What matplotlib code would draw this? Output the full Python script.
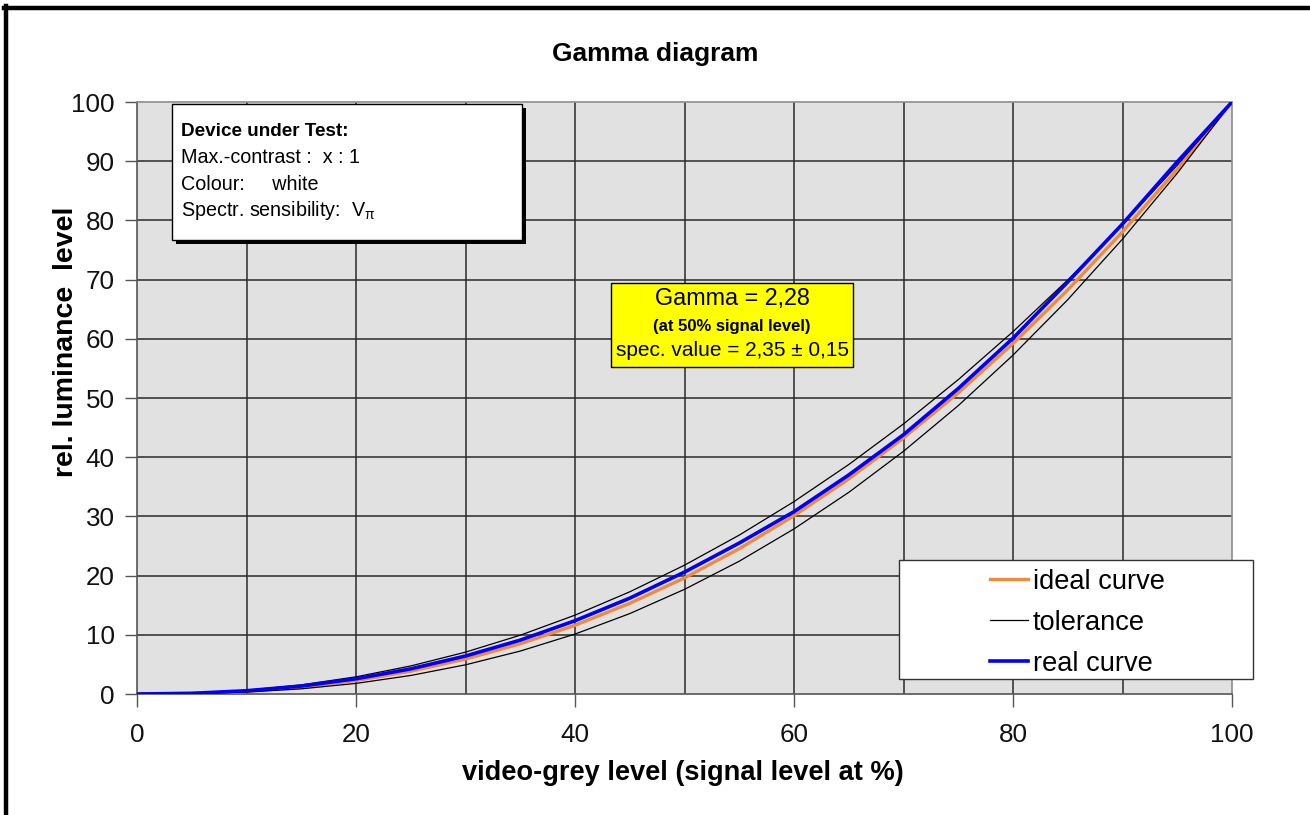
import matplotlib
matplotlib.use("Agg")
import matplotlib.pyplot as plt
from matplotlib.patches import Rectangle
from matplotlib.lines import Line2D

plt.rcParams['font.family'] = ['Liberation Sans', 'DejaVu Sans']
plt.rcParams['mathtext.default'] = 'regular'

# signal level (%)
signal = [0, 5, 10, 15, 20, 25, 30, 35, 40, 45, 50,
          55, 60, 65, 70, 75, 80, 85, 90, 95, 100]

# ideal curve (gamma 2.35)
ideal = [0, 0.09, 0.45, 1.16, 2.28, 3.85, 5.91, 8.48, 11.61, 15.31, 19.61,
         24.54, 30.11, 36.33, 43.25, 50.86, 59.20, 68.26, 78.07, 88.65, 100]

# tolerance band (2.35 +/- 0.15)
tol_upper = [0, 0.14, 0.63, 1.54, 2.90, 4.74, 7.07, 9.93, 13.32, 17.26, 21.76,
             26.84, 32.50, 38.76, 45.62, 53.10, 61.21, 69.94, 79.31, 89.33, 100]
tol_lower = [0, 0.06, 0.32, 0.87, 1.79, 3.13, 4.93, 7.25, 10.12, 13.58, 17.68,
             22.43, 27.89, 34.06, 41.00, 48.71, 57.24, 66.61, 76.84, 87.97, 100]

# measured luminance
real = [0, 0.11, 0.55, 1.34, 2.57, 4.25, 6.42, 9.10, 12.38, 16.19, 20.59,
        25.50, 30.80, 37.00, 43.80, 51.60, 60.10, 69.60, 79.40, 89.90, 100]

x_ticks = [0, 20, 40, 60, 80, 100]
y_ticks = [0, 10, 20, 30, 40, 50, 60, 70, 80, 90, 100]

W, H = 1310, 815
fig = plt.figure(figsize=(W / 100, H / 100), dpi=100)
fig.patch.set_facecolor('white')


def fx(px):
    return px / W


def fy(py):
    return 1 - py / H


ax = fig.add_axes([fx(137), fy(694), fx(1232) - fx(137), fy(102) - fy(694)])
ax.set_facecolor('#e1e1e1')
ax.set_xlim(0, 100)
ax.set_ylim(0, 100)

# grid every 10 on both axes
for gx in range(10, 100, 10):
    ax.axvline(gx, color='#2a2a2a', lw=1.1, zorder=1)
for gy in range(10, 100, 10):
    ax.axhline(gy, color='#2a2a2a', lw=1.1, zorder=1)

ax.plot(signal, ideal, color='#f08a3e', lw=2.4, zorder=3, label='ideal curve')
ax.plot(signal, tol_upper, color='black', lw=0.9, zorder=4, label='tolerance')
ax.plot(signal, tol_lower, color='black', lw=0.9, zorder=4)
ax.plot(signal, real, color='#0000ff', lw=2.6, zorder=5, label='real curve')

ax.set_xticks(x_ticks)
ax.set_yticks(y_ticks)
ax.tick_params(axis='both', direction='out', length=9, width=1, color='#555555',
               labelsize=18.7, labelcolor='#111111')
ax.tick_params(axis='x', pad=12)
ax.tick_params(axis='y', pad=7)
for side in ['left', 'bottom']:
    ax.spines[side].set_color('#555555')
    ax.spines[side].set_linewidth(1.2)
for side in ['top', 'right']:
    ax.spines[side].set_color('#8c8c8c')
    ax.spines[side].set_linewidth(1.2)

# titles and axis labels
fig.text(0.5, fy(54), 'Gamma diagram', ha='center', va='center',
         fontsize=19, fontweight='bold')
fig.text(fx(683), fy(773), 'video-grey level (signal level at %)', ha='center',
         va='center', fontsize=19.6, fontweight='bold')
fig.text(fx(66), fy(342), 'rel. luminance  level', ha='center', va='center',
         rotation=90, fontsize=20.5, fontweight='bold')

# device info box with drop shadow
fig.patches.append(Rectangle((fx(176), fy(244)), fx(350), fy(104) - fy(240),
                             transform=fig.transFigure, facecolor='black',
                             edgecolor='none', zorder=10))
fig.patches.append(Rectangle((fx(172), fy(240)), fx(350), fy(104) - fy(240),
                             transform=fig.transFigure, facecolor='white',
                             edgecolor='black', lw=1, zorder=11))
info_lines = [('Device under Test:', 'bold', 13.6),
              ('Max.-contrast :  x : 1', 'normal', 14.2),
              ('Colour:     white', 'normal', 14.2),
              ('Spectr. sensibility:  V$_{π}$', 'normal', 14.2)]
for i, (txt, w, fs) in enumerate(info_lines):
    fig.text(fx(181), fy(131 + i * 26.5), txt, ha='left', va='center',
             fontsize=fs, fontweight=w, zorder=12)

# gamma result box
fig.patches.append(Rectangle((fx(611), fy(367)), fx(242), fy(283) - fy(367),
                             transform=fig.transFigure, facecolor='#ffff00',
                             edgecolor='black', lw=1, zorder=11))
fig.text(fx(732), fy(299), 'Gamma = 2,28', ha='center', va='center',
         fontsize=16.8, zorder=12)
fig.text(fx(732), fy(326), '(at 50% signal level)', ha='center', va='center',
         fontsize=12, fontweight='bold', zorder=12)
fig.text(fx(732), fy(351), 'spec. value = 2,35 ± 0,15', ha='center',
         va='center', fontsize=15, zorder=12)

# legend box
fig.patches.append(Rectangle((fx(899), fy(679)), fx(354), fy(560) - fy(679),
                             transform=fig.transFigure, facecolor='white',
                             edgecolor='#333333', lw=1, zorder=11))
leg = fig.legend(loc='upper left', bbox_to_anchor=(fx(990), fy(569)),
                 frameon=False, fontsize=19.6, handlelength=1.4,
                 handletextpad=0.18, labelspacing=0.55, borderpad=0.0,
                 borderaxespad=0.0)
leg.set_zorder(12)

# page frame (top and left edges)
fig.lines.append(Line2D([fx(4), 1.0], [fy(8), fy(8)], transform=fig.transFigure,
                        color='black', lw=3.2, zorder=20))
fig.lines.append(Line2D([fx(6), fx(6)], [fy(6), 0.0], transform=fig.transFigure,
                        color='black', lw=3.2, zorder=20))

fig.savefig('out.png', dpi=100)
